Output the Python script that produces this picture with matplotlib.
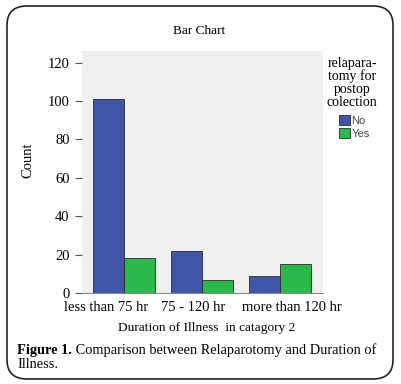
import matplotlib.pyplot as plt
import numpy as np
from matplotlib.patches import FancyBboxPatch, Patch
from matplotlib.transforms import ScaledTranslation

categories = ["less than 75 hr", "75 - 120 hr", "more than 120 hr"]
no_counts = [101, 22, 9]
yes_counts = [18, 7, 15]
series_names = ["No", "Yes"]
yticks = [0, 20, 40, 60, 80, 100, 120]

serif = "Liberation Serif"
blue = "#3f56a8"
green = "#2cb84a"

fig = plt.figure(figsize=(4.01, 3.84), dpi=100)
W, H = 401, 384

# rounded frame around the whole figure
frame = FancyBboxPatch((7 / W, 5 / H), 386 / W, 373 / H,
                       boxstyle="round,pad=0,rounding_size=0.05",
                       transform=fig.transFigure, fill=False,
                       edgecolor="#222222", linewidth=1.2)
fig.patches.append(frame)

ax = fig.add_axes([82 / W, 1 - 293 / H, 241 / W, 242 / H])
ax.set_facecolor("#f0f0f0")

x = np.arange(len(categories))
w = 0.4
ax.bar(x - w / 2, no_counts, w, color=blue, edgecolor="#2a2a2a", linewidth=0.6)
ax.bar(x + w / 2, yes_counts, w, color=green, edgecolor="#2a2a2a", linewidth=0.6)

ax.set_xlim(-0.54, 2.55)
ax.set_ylim(0, 126)
ax.set_yticks(yticks)
ax.set_yticklabels([str(t) for t in yticks], fontfamily=serif, fontsize=10.5)
ax.set_xticks(x)
ax.set_xticklabels(categories, fontfamily=serif, fontsize=10.5)
ax.tick_params(axis="x", length=0, pad=6)
ax.tick_params(axis="y", length=5, width=0.8, color="#555555", pad=4)
for s in ["top", "right", "left"]:
    ax.spines[s].set_visible(False)
ax.spines["bottom"].set_color("#888888")
ax.spines["bottom"].set_linewidth(0.8)

# labels are nudged sideways so they do not run into each other
shifts = [-18, -9, 12]
for lab, dx in zip(ax.get_xticklabels(), shifts):
    lab.set_transform(lab.get_transform() + ScaledTranslation(dx / 100, 0, fig.dpi_scale_trans))

fig.text(199 / W, 1 - 31 / H, "Bar Chart", ha="center", va="center",
         fontfamily=serif, fontsize=9.5)
fig.text(28 / W, 1 - 160 / H, "Count", ha="center", va="center",
         rotation=90, fontfamily=serif, fontsize=10.5)
fig.text(207 / W, 1 - 328 / H, "Duration of Illness  in catagory 2",
         ha="center", va="center", fontfamily=serif, fontsize=9.6)

# legend
fig.text(352 / W, 1 - 83 / H, "relapara-\ntomy for\npostop\ncolection",
         ha="center", va="center", fontfamily=serif, fontsize=10,
         linespacing=1.0)
handles = [Patch(facecolor=blue, edgecolor="#2a2a2a", linewidth=0.6),
           Patch(facecolor=green, edgecolor="#2a2a2a", linewidth=0.6)]
leg = fig.legend(handles, series_names, loc="upper left",
                 bbox_to_anchor=(339 / W, 1 - 115 / H), frameon=False,
                 prop={"family": "Liberation Sans", "size": 8},
                 handlelength=0.95, handleheight=0.95, handletextpad=0.15,
                 labelspacing=0.25, borderpad=0, borderaxespad=0)
for t in leg.get_texts():
    t.set_color("#444444")

# caption: bold lead-in followed by normal text
cap1 = fig.text(17 / W, 1 - 354 / H, "Figure 1.", ha="left", va="baseline",
                fontfamily=serif, fontsize=10.4, fontweight="bold")
ax.annotate(" Comparison between Relaparotomy and Duration of",
            xy=(1, 0), xycoords=cap1, ha="left", va="bottom",
            fontfamily=serif, fontsize=10.4, annotation_clip=False)
fig.text(17 / W, 1 - 368 / H, "Illness.", ha="left", va="baseline",
         fontfamily=serif, fontsize=10.4)

fig.savefig("out.png", dpi=100)
